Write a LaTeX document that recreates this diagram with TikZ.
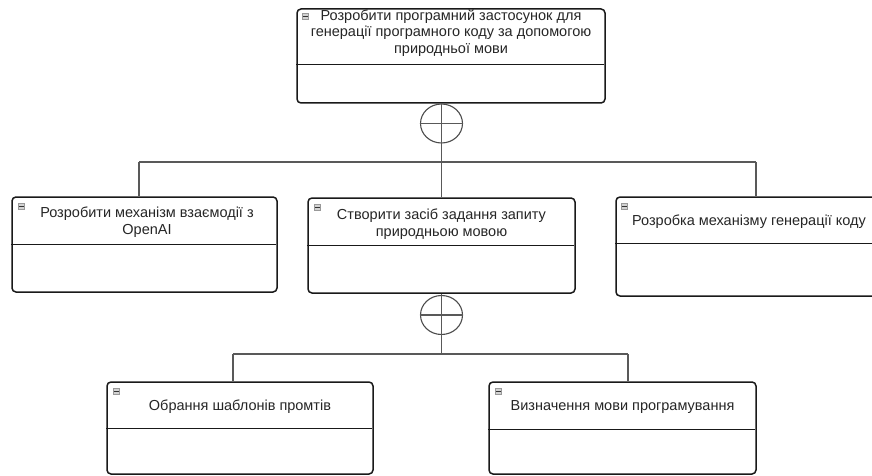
\documentclass[tikz,border=0pt]{standalone}
\usepackage{fontspec}
\setmainfont{Liberation Sans}
\usetikzlibrary{shapes.geometric}
\tikzset{
  task/.style={draw=black!90, line width=1.5pt, rounded corners=4pt, inner sep=0pt, fill=white},
  divider/.style={draw=black!90, line width=1.4pt},
  conn/.style={draw=black!65, line width=1.1pt},
  lbl/.style={font=\fontsize{14.5}{16.5}\selectfont, align=center, text=black!85, inner sep=0pt},
  icon/.style={draw=gray!80, fill=gray!35, line width=0.5pt, minimum width=6pt, minimum height=6pt, inner sep=0pt,
    path picture={\draw[gray!40!black, line width=0.8pt] (path picture bounding box.west) -- (path picture bounding box.east);}},
  junction/.style={ellipse, draw=black!70, line width=1.1pt, inner sep=0pt, minimum width=42pt, minimum height=39pt}
}
\begin{document}
\begin{tikzpicture}[x=1pt,y=-1pt]
\useasboundingbox (0,0) rectangle (872,476);
\clip (0,0) rectangle (872,476);
\fill[white] (0,0) rectangle (872,476);

% boxes
\node[task, minimum width=308pt, minimum height=94pt] (T) at (451,56) {};
\node[task, minimum width=265pt, minimum height=95pt] (A) at (144.5,244.5) {};
\node[task, minimum width=267pt, minimum height=95pt] (B) at (441.5,245.5) {};
\node[task, minimum width=266pt, minimum height=99pt] (C) at (749,246.5) {};
\node[task, minimum width=266pt, minimum height=92pt] (D) at (240,428) {};
\node[task, minimum width=267pt, minimum height=92pt] (E) at (622.5,428) {};

% dividers
\draw[divider] (T.north west) ++(0,56) -- ++(308,0);
\draw[divider] (A.north west) ++(0,48) -- ++(265,0);
\draw[divider] (B.north west) ++(0,48) -- ++(267,0);
\draw[divider] (C.north west) ++(0,47) -- ++(266,0);
\draw[divider] (D.north west) ++(0,47) -- ++(266,0);
\draw[divider] (E.north west) ++(0,48) -- ++(267,0);

% icons
\node[icon, anchor=north west] (Ti) at ([shift={(6,5)}]T.north west) {};
\node[icon, anchor=north west] (Ai) at ([shift={(7,7)}]A.north west) {};
\node[icon, anchor=north west] (Bi) at ([shift={(7,7)}]B.north west) {};
\node[icon, anchor=north west] (Ci) at ([shift={(6,7)}]C.north west) {};
\node[icon, anchor=north west] (Di) at ([shift={(7,7)}]D.north west) {};
\node[icon, anchor=north west] (Ei) at ([shift={(7,7)}]E.north west) {};

% labels
\node[lbl] (Tt) at (451,33) {Розробити програмний застосунок для\\генерації програмного коду за допомогою\\природньої мови};
\node[lbl] (At) at (147,222) {Розробити механізм взаємодії з\\OpenAI};
\node[lbl] (Bt) at (441.5,224) {Створити засіб задання запиту\\природньою мовою};
\node[lbl] (Ct) at (749,222) {Розробка механізму генерації коду};
\node[lbl] (Dt) at (240,407) {Обрання шаблонів промтів};
\node[lbl] (Et) at (622.5,407) {Визначення мови програмування};

% junctions
\node[junction] (O1) at (441.5,123.5) {};
\node[junction] (O2) at (441.5,315) {};

\coordinate (b1L) at (139,162);
\coordinate (b1M) at (441.5,162);
\coordinate (b1R) at (756,162);
\coordinate (b2L) at (233,354);
\coordinate (b2M) at (441.5,354);
\coordinate (b2R) at (628,354);

% connectors
\draw[conn] (O1.west) -- (O1.east);
\draw[conn] (O1.north |- T.south) -- (b1M);
\draw[conn] (b1L) -- (b1R);
\draw[conn] (b1L) -- (b1L |- A.north);
\draw[conn] (b1M) -- (b1M |- B.north);
\draw[conn] (b1R) -- (b1R |- C.north);

\draw[conn] (O2.west) -- (O2.east);
\draw[conn] (O2.north |- B.south) -- (b2M);
\draw[conn] (b2L) -- (b2R);
\draw[conn] (b2L) -- (b2L |- D.north);
\draw[conn] (b2R) -- (b2R |- E.north);
\end{tikzpicture}
\end{document}
